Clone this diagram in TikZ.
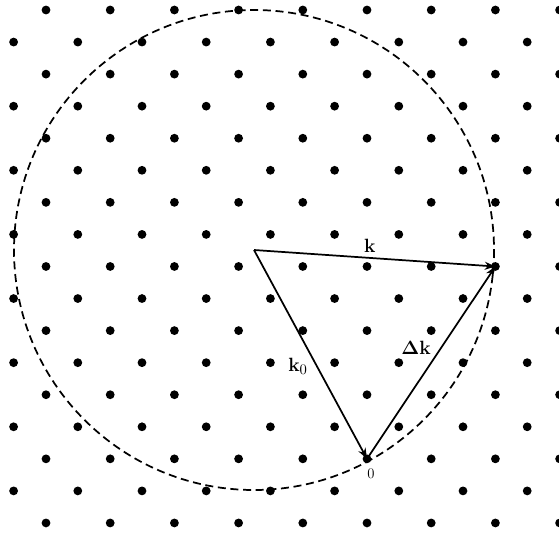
\documentclass[tikz,border=0pt]{standalone}
\usetikzlibrary{arrows.meta}
\begin{document}
\begin{tikzpicture}[x=0.75pt,y=-0.75pt,
  latdot/.style={fill=black},
  vec/.style={line width=1.3pt,-{Stealth[length=8pt,width=6pt]}},
  ewald/.style={line width=1.3pt,dash pattern=on 6pt off 3.5pt},
  lbl/.style={font=\fontsize{15.5}{18}\selectfont,inner sep=1pt}]
\useasboundingbox (0,0) rectangle (559,534);
\clip (0,0) rectangle (559,534);
% reciprocal lattice
\foreach \r in {0,...,16}{
  \pgfmathsetmacro{\yy}{10+32.06*\r}
  \pgfmathsetmacro{\xo}{mod(\r,2)==0 ? 46 : 13.6}
  \foreach \n in {-1,...,8}{
    \fill[latdot] ({\xo+64.2*\n},\yy) circle (3.3pt);
  }
}
% key points
\coordinate (O) at (254,250);
\coordinate (K) at (495.4,266.5);
\coordinate (Z) at (367,458.8);
% Ewald circle
\draw[ewald] (O) circle (240);
% vectors
\draw[vec] (O) -- node[lbl,above=2.5pt,pos=0.48] (kl) {$\mathbf{k}$} (K);
\draw[vec] (O) -- (Z);
\draw[vec] (Z) -- (K);
\node[lbl] (k0l) at (298,366) {$\mathbf{k}_0$};
\node[lbl] (dkl) at (416,348) {$\mathbf{\Delta k}$};
\node[lbl,font=\fontsize{11}{12}\selectfont] (zl) at (371,474) {0};
\end{tikzpicture}
\end{document}
